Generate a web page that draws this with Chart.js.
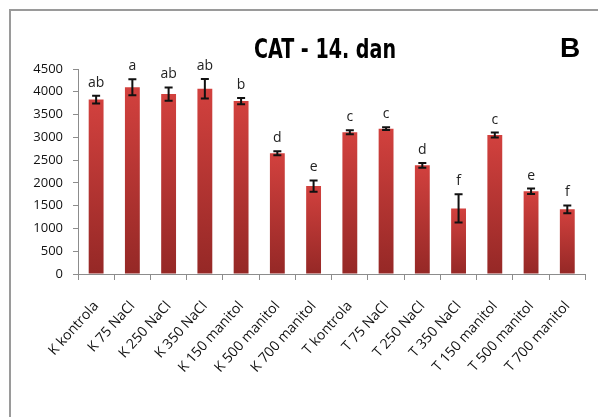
<!DOCTYPE html>
<html>
<head>
<meta charset="utf-8">
<script src="https://cdn.jsdelivr.net/npm/chart.js@4/dist/chart.umd.min.js"></script>
<style>
  html, body { margin: 0; padding: 0; background: #fff; }
  #wrap { width: 598px; height: 417px; position: relative; }
</style>
</head>
<body>
<div id="wrap"><canvas id="cat-chart"></canvas></div>
<script>
const categories = [
  'K kontrola', 'K 75 NaCl', 'K 250 NaCl', 'K 350 NaCl', 'K 150 manitol', 'K 500 manitol', 'K 700 manitol',
  'T kontrola', 'T 75 NaCl', 'T 250 NaCl', 'T 350 NaCl', 'T 150 manitol', 'T 500 manitol', 'T 700 manitol'
];
const catValues = [3830, 4100, 3950, 4065, 3795, 2650, 1930, 3110, 3190, 2385, 1440, 3050, 1815, 1420];
const catErrors = [85, 175, 145, 215, 70, 45, 125, 45, 30, 50, 310, 55, 60, 85];
const letters = ['ab', 'a', 'ab', 'ab', 'b', 'd', 'e', 'c', 'c', 'd', 'f', 'c', 'e', 'f'];
const yMax = 4500;
const yStep = 500;

const tickFont = { family: 'Open Sans', size: 13 };
const catFont = { family: 'Open Sans', size: 14 };

// bar colour: each bar goes light red at top to dark red at the base
function barGradient(context) {
  const chart = context.chart;
  const area = chart.chartArea;
  if (!area || context.dataIndex === undefined) return '#c0392b';
  const y = chart.scales.y;
  const top = y.getPixelForValue(catValues[context.dataIndex]);
  const g = chart.ctx.createLinearGradient(0, top, 0, area.bottom);
  g.addColorStop(0, '#d2413e');
  g.addColorStop(1, '#952826');
  return g;
}

const framePlugin = {
  id: 'frame',
  beforeDraw(chart) {
    const ctx = chart.ctx;
    ctx.save();
    ctx.fillStyle = '#fff';
    ctx.fillRect(0, 0, chart.width, chart.height);
    ctx.strokeStyle = '#9a9a9a';
    ctx.lineWidth = 2;
    ctx.beginPath();
    ctx.moveTo(10, chart.height);
    ctx.lineTo(10, 10);
    ctx.lineTo(chart.width, 10);
    ctx.stroke();
    ctx.restore();
  },
  afterDraw(chart) {
    const ctx = chart.ctx;
    ctx.save();
    ctx.fillStyle = '#000';
    ctx.textBaseline = 'alphabetic';
    ctx.textAlign = 'center';
    ctx.font = 'bold 26px "Liberation Sans Narrow", "DejaVu Sans Condensed", sans-serif';
    ctx.fillText('CAT - 14. dan', 325, 58, 142);
    ctx.font = 'bold 28px "Liberation Sans", Arial, sans-serif';
    ctx.fillText('B', 570, 57);
    ctx.restore();
  }
};

const errorBarPlugin = {
  id: 'errorBars',
  afterDatasetsDraw(chart) {
    const ctx = chart.ctx;
    const y = chart.scales.y;
    const meta = chart.getDatasetMeta(0);
    ctx.save();
    meta.data.forEach((bar, i) => {
      const hi = y.getPixelForValue(catValues[i] + catErrors[i]);
      const lo = y.getPixelForValue(catValues[i] - catErrors[i]);
      ctx.strokeStyle = '#111';
      ctx.lineWidth = 2;
      ctx.beginPath();
      ctx.moveTo(bar.x, hi);
      ctx.lineTo(bar.x, lo);
      ctx.moveTo(bar.x - 4, hi);
      ctx.lineTo(bar.x + 4, hi);
      ctx.moveTo(bar.x - 4, lo);
      ctx.lineTo(bar.x + 4, lo);
      ctx.stroke();

      ctx.fillStyle = '#222';
      ctx.font = '14px "Open Sans", sans-serif';
      ctx.textAlign = 'center';
      ctx.textBaseline = 'alphabetic';
      ctx.fillText(letters[i], bar.x, hi - 9);
    });
    ctx.restore();
  }
};

new Chart(document.getElementById('cat-chart'), {
  type: 'bar',
  data: {
    labels: categories,
    datasets: [{
      data: catValues,
      backgroundColor: barGradient,
      borderWidth: 0,
      barPercentage: 0.41,
      categoryPercentage: 1
    }]
  },
  options: {
    responsive: true,
    maintainAspectRatio: false,
    animation: false,
    layout: { padding: { top: 69, right: 6, left: 0, bottom: 0 } },
    plugins: {
      legend: { display: false },
      tooltip: { enabled: false }
    },
    scales: {
      x: {
        offset: true,
        grid: { offset: true, drawOnChartArea: false, tickLength: 6, color: '#8c8c8c' },
        border: { color: '#8c8c8c' },
        ticks: { minRotation: 48, maxRotation: 48, font: catFont, color: '#111', padding: 18 },
        afterFit(scale) { scale.height = 143; }
      },
      y: {
        min: 0,
        max: yMax,
        ticks: { stepSize: yStep, font: tickFont, color: '#111', padding: 10, callback: v => String(v) },
        grid: { drawOnChartArea: false, tickLength: 5, color: '#8c8c8c' },
        border: { color: '#8c8c8c' },
        afterFit(scale) { scale.width = 78; }
      }
    }
  },
  plugins: [framePlugin, errorBarPlugin]
});
</script>
</body>
</html>
